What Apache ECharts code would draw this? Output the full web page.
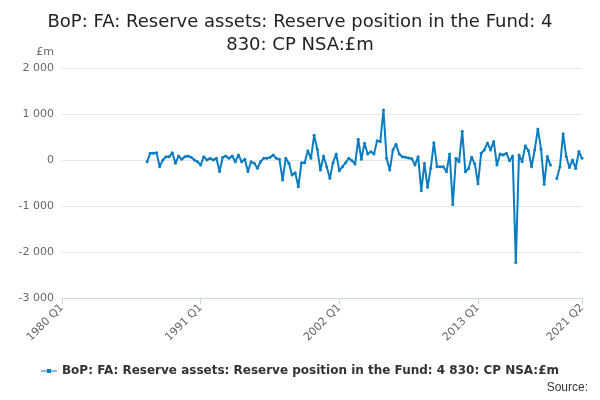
<!DOCTYPE html>
<html>
<head>
<meta charset="utf-8">
<script src="https://cdn.jsdelivr.net/npm/echarts@6/dist/echarts.min.js"></script>
<style>html,body{margin:0;padding:0}#c{width:600px;height:400px}</style>
</head>
<body>
<div id="c"></div>
<script>
// quarterly values, £m (latest at 2021 Q2)
var part1 = [-36,145,145,160,-145,0,72,72,160,-72,87,14,72,87,58,0,-36,-109,72,0,36,0,36,-250,58,87,36,87,-36,109,-36,14,-250,-36,-72,-181,-36,36,36,58,109,36,14,-435,36,-72];
var part2 = [-325,-275,-580,-58,-58,203,36,536,232,-218,87,-145,-399,-58,131,-232,-145,-58,36,-14,-87,450,14,362,131,181,131,421,399,1087,36,-218,218,341,131,72,58,43,29,-109,72,-667,-72,-595,-181,377,-145];
var part3 = [-147,-147,-257,132,-970,37,-37,625,-257,-184,59,-88,-515,147,220,367,220,404,-110,132,110,147,-15,88,-2230,110,-37,309,206,-147,220,675,235,-529,74,-110,null,-404,-147,573,74,-162,0,-184,184,37];
var values = part1.concat(part2, part3);

var quarters = [];
for (var y = 1980; y <= 2021; y++) {
  for (var q = 1; q <= 4; q++) {
    if (y === 2021 && q > 2) break;
    quarters.push(y + ' Q' + q);
  }
}
var series = [];
for (var i = 0; i < quarters.length - values.length; i++) series.push(null);
series = series.concat(values);
var shown = ['1980 Q1', '1991 Q1', '2002 Q1', '2013 Q1', '2021 Q2'];
var pick = function (i, v) { return shown.indexOf(v) >= 0; };

var chart = echarts.init(document.getElementById('c'));
chart.setOption({
  textStyle: {fontFamily: 'DejaVu Sans'},
  title: {
    text: 'BoP: FA: Reserve assets: Reserve position in the Fund: 4\n830: CP NSA:£m',
    left: 'center', top: 6,
    textStyle: {fontSize: 18, fontWeight: 'normal', color: '#222', lineHeight: 23}
  },
  grid: {left: 62, right: 18, top: 68, bottom: 102},
  xAxis: {
    type: 'category', data: quarters, boundaryGap: false,
    axisLine: {onZero: false, lineStyle: {color: '#ccd6eb'}},
    axisTick: {alignWithLabel: true, interval: pick, length: 6, lineStyle: {color: '#ccd6eb'}},
    axisLabel: {interval: pick, rotate: 45, color: '#666', fontSize: 11, margin: 8}
  },
  yAxis: {
    type: 'value', min: -3000, max: 2000, interval: 1000,
    name: '£m', nameLocation: 'end', nameGap: 10,
    nameTextStyle: {color: '#666', fontSize: 11, align: 'right', padding: [0, 8, 0, 0]},
    axisLabel: {color: '#666', fontSize: 11, formatter: function (v) { return String(v).replace(/\B(?=(\d{3})+(?!\d))/g, ' '); }},
    splitLine: {lineStyle: {color: '#e6e6e6'}}
  },
  legend: {
    bottom: 18, left: 'center', itemWidth: 16, itemHeight: 6,
    icon: 'path://M0,2.5 L16,2.5 L16,3.5 L0,3.5 Z M6,1 L10,1 L10,5 L6,5 Z',
    textStyle: {fontSize: 12, fontWeight: 'bold', color: '#333'}
  },
  graphic: [{type: 'text', right: 12, bottom: 6, style: {text: 'Source:', fill: '#333', fontSize: 12}}],
  series: [{
    name: 'BoP: FA: Reserve assets: Reserve position in the Fund: 4 830: CP NSA:£m',
    type: 'line', data: series, connectNulls: false,
    symbol: 'circle', symbolSize: 3, showSymbol: true, showAllSymbol: true,
    lineStyle: {width: 2, color: '#0a7dc2'}, itemStyle: {color: '#0a7dc2'}
  }]
});
</script>
</body>
</html>
